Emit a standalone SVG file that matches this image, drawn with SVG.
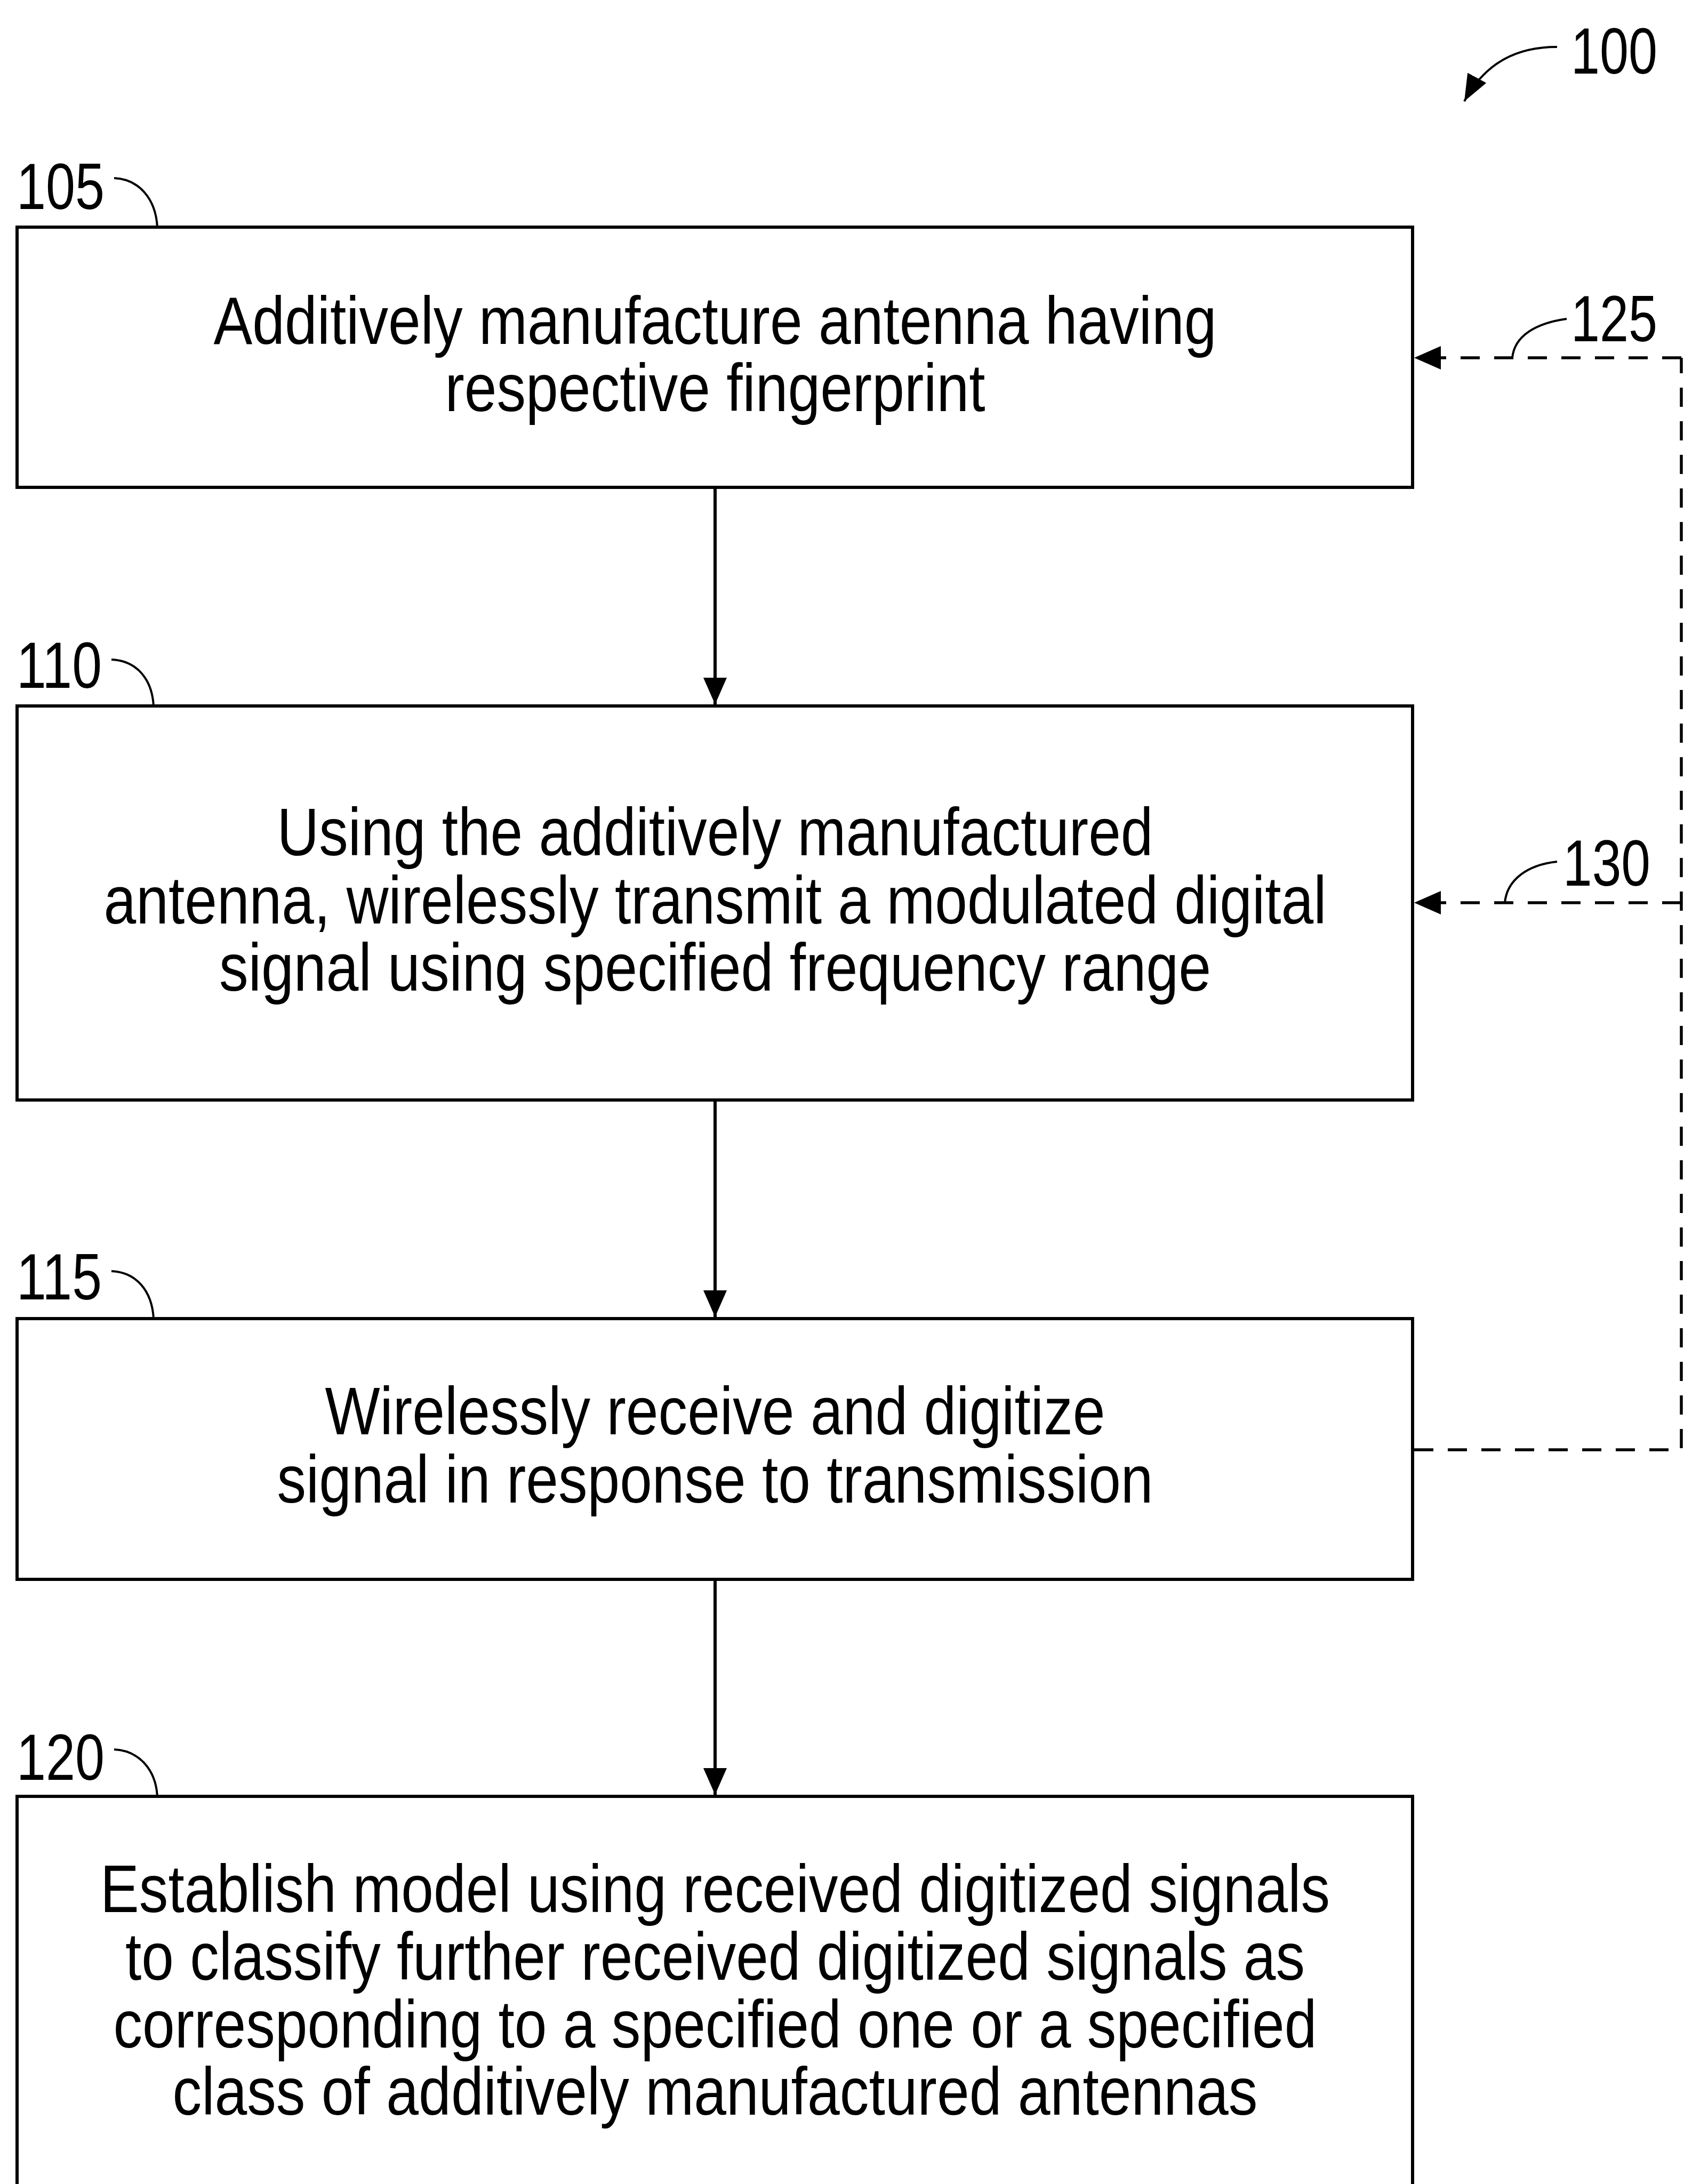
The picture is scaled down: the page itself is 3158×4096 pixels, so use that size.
<svg xmlns="http://www.w3.org/2000/svg" width="3158" height="4096" viewBox="0 0 3158 4096">
<defs>
<style>
.box{fill:#fff;stroke:#000;stroke-width:6}
.t{font-family:"Liberation Sans",Arial,sans-serif;font-size:126px;fill:#000;text-anchor:middle}
.lbl{font-family:"Liberation Sans",Arial,sans-serif;font-size:122px;fill:#000}
.conn{fill:none;stroke:#000;stroke-width:6}
.dash{fill:none;stroke:#000;stroke-width:5.5;stroke-dasharray:36 27}
.lead{fill:none;stroke:#000;stroke-width:4}
</style>
<marker id="ah" markerUnits="userSpaceOnUse" markerWidth="52" markerHeight="46" refX="50" refY="22" orient="auto">
<path d="M0,0 L50,22 L0,44 Z" fill="#000"/>
</marker>
<marker id="ah2" markerUnits="userSpaceOnUse" markerWidth="54" markerHeight="44" refX="50" refY="20" orient="auto">
<path d="M0,0 L50,20 L0,40 Z" fill="#000"/>
</marker>
</defs>
<rect width="3158" height="4096" fill="#fff"/>

<g id="ref100">
<text class="lbl" x="2946" y="138" textLength="162" lengthAdjust="spacingAndGlyphs">100</text>
<path class="lead" d="M2920,88 C2846,88 2786,116 2746,190" stroke-width="7" marker-end="url(#ah2)"/>
</g>

<g id="node105">
<rect class="box" x="32" y="426" width="2617" height="488"/>
<text class="t" x="1341" y="645" textLength="1881" lengthAdjust="spacingAndGlyphs">Additively manufacture antenna having</text>
<text class="t" x="1341" y="771" textLength="1013" lengthAdjust="spacingAndGlyphs">respective fingerprint</text>
<text class="lbl" x="31" y="392" textLength="165" lengthAdjust="spacingAndGlyphs">105</text>
<path class="lead" d="M214,334 C260,336 292,372 295,426"/>
</g>

<g id="node110">
<rect class="box" x="32" y="1324" width="2617" height="739"/>
<text class="t" x="1341" y="1604" textLength="1643" lengthAdjust="spacingAndGlyphs">Using the additively manufactured</text>
<text class="t" x="1341" y="1732" textLength="2293" lengthAdjust="spacingAndGlyphs">antenna, wirelessly transmit a modulated digital</text>
<text class="t" x="1341" y="1858" textLength="1860" lengthAdjust="spacingAndGlyphs">signal using specified frequency range</text>
<text class="lbl" x="31" y="1290" textLength="160" lengthAdjust="spacingAndGlyphs">110</text>
<path class="lead" d="M209,1237 C255,1239 285,1272 288,1324"/>
</g>

<g id="node115">
<rect class="box" x="32" y="2473" width="2617" height="489"/>
<text class="t" x="1341" y="2690" textLength="1463" lengthAdjust="spacingAndGlyphs">Wirelessly receive and digitize</text>
<text class="t" x="1341" y="2818" textLength="1643" lengthAdjust="spacingAndGlyphs">signal in response to transmission</text>
<text class="lbl" x="31" y="2437" textLength="160" lengthAdjust="spacingAndGlyphs">115</text>
<path class="lead" d="M209,2384 C255,2386 285,2420 288,2473"/>
</g>

<g id="node120">
<rect class="box" x="32" y="3369" width="2617" height="760"/>
<text class="t" x="1341" y="3586" textLength="2306" lengthAdjust="spacingAndGlyphs">Establish model using received digitized signals</text>
<text class="t" x="1341" y="3713" textLength="2212" lengthAdjust="spacingAndGlyphs">to classify further received digitized signals as</text>
<text class="t" x="1341" y="3840" textLength="2257" lengthAdjust="spacingAndGlyphs">corresponding to a specified one or a specified</text>
<text class="t" x="1341" y="3966" textLength="2035" lengthAdjust="spacingAndGlyphs">class of additively manufactured antennas</text>
<text class="lbl" x="31" y="3338" textLength="165" lengthAdjust="spacingAndGlyphs">120</text>
<path class="lead" d="M214,3281 C260,3283 292,3318 295,3369"/>
</g>

<g id="connectors">
<line class="conn" x1="1341" y1="914" x2="1341" y2="1321" marker-end="url(#ah)"/>
<line class="conn" x1="1341" y1="2063" x2="1341" y2="2470" marker-end="url(#ah)"/>
<line class="conn" x1="1341" y1="2962" x2="1341" y2="3366" marker-end="url(#ah)"/>
<path class="dash" d="M2652,2719 H3153 V671"/>
<line class="dash" x1="3153" y1="671" x2="2652" y2="671" marker-end="url(#ah)"/>
<line class="dash" x1="3153" y1="1693" x2="2652" y2="1693" marker-end="url(#ah)"/>
</g>

<g id="ref125">
<text class="lbl" x="2946" y="640" textLength="162" lengthAdjust="spacingAndGlyphs">125</text>
<path class="lead" d="M2938,598 C2880,606 2840,630 2836,671"/>
</g>
<g id="ref130">
<text class="lbl" x="2931" y="1661" textLength="164" lengthAdjust="spacingAndGlyphs">130</text>
<path class="lead" d="M2920,1616 C2864,1622 2826,1650 2822,1693"/>
</g>
</svg>
